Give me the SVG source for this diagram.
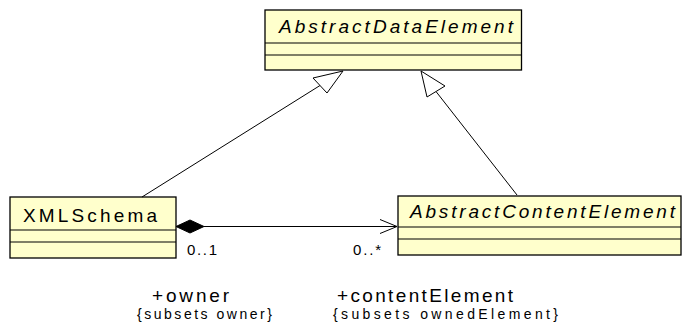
<svg xmlns="http://www.w3.org/2000/svg" width="682" height="324" viewBox="0 0 682 324">
<style>
.box{fill:#ffffcc;stroke:#000;stroke-width:1.3}
.div{stroke:#000;stroke-width:1.1}
.t{font-family:"Liberation Sans",Arial,sans-serif;fill:#000}
.title{font-size:19px}
.it{font-style:italic}
.mult{font-size:15px}
.role{font-size:19px}
.con{font-size:14px}
.ln{fill:none;stroke:#000;stroke-width:1}
.tri{fill:#fff;stroke:#000;stroke-width:1}
</style>
<rect width="682" height="324" fill="#fff"/>
<g id="AbstractDataElement">
<rect class="box" x="265" y="10" width="256.5" height="60"/>
<line class="div" x1="265" y1="43" x2="521.5" y2="43"/>
<line class="div" x1="265" y1="55" x2="521.5" y2="55"/>
<text class="t title it" x="279" y="33" textLength="234" lengthAdjust="spacing">AbstractDataElement</text>
</g>
<g id="XMLSchema">
<rect class="box" x="10" y="197" width="166" height="61"/>
<line class="div" x1="10" y1="230" x2="176" y2="230"/>
<line class="div" x1="10" y1="242" x2="176" y2="242"/>
<text class="t title" x="23" y="222" textLength="134" lengthAdjust="spacing">XMLSchema</text>
</g>
<g id="AbstractContentElement">
<rect class="box" x="398" y="196" width="283" height="59"/>
<line class="div" x1="398" y1="227" x2="681" y2="227"/>
<line class="div" x1="398" y1="239" x2="681" y2="239"/>
<text class="t title it" x="410" y="218" textLength="265" lengthAdjust="spacing">AbstractContentElement</text>
</g>
<g id="connectors">
<line class="ln" x1="142" y1="197" x2="320" y2="85.5"/>
<polygon class="tri" points="343,71 313,78 327,93"/>
<line class="ln" x1="517" y1="195" x2="436" y2="91.5"/>
<polygon class="tri" points="421,71 427,97 445,86"/>
<line class="ln" x1="204" y1="226.5" x2="397" y2="226.5"/>
<polygon points="176,226.5 190,220 204,226.5 190,233" fill="#000" stroke="#000" stroke-width="1"/>
<polyline class="ln" points="380,219.5 397,226.5 380,233.5"/>
<text class="t mult" x="187" y="255" textLength="30" lengthAdjust="spacing">0..1</text>
<text class="t mult" x="353" y="255" textLength="28" lengthAdjust="spacing">0..*</text>
<text class="t role" x="152" y="302" textLength="77" lengthAdjust="spacing">+owner</text>
<text class="t con" x="137" y="319" textLength="135" lengthAdjust="spacing">{subsets owner}</text>
<text class="t role" x="337" y="302" textLength="176" lengthAdjust="spacing">+contentElement</text>
<text class="t con" x="333" y="319" textLength="225" lengthAdjust="spacing">{subsets ownedElement}</text>
</g>
</svg>
